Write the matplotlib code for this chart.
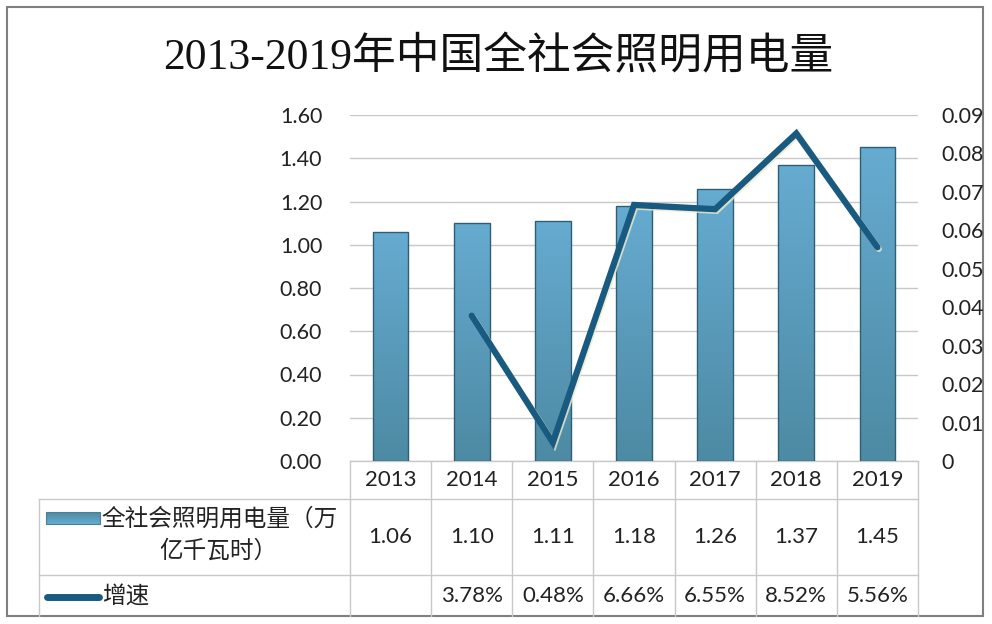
import matplotlib
matplotlib.use("Agg")
import matplotlib.pyplot as plt
import numpy as np
from matplotlib.patches import Rectangle
from matplotlib.colors import LinearSegmentedColormap
import matplotlib.patheffects as pe

years = ["2013", "2014", "2015", "2016", "2017", "2018", "2019"]
usage = [1.06, 1.10, 1.11, 1.18, 1.26, 1.37, 1.45]
growth = [None, 0.0378, 0.0048, 0.0666, 0.0655, 0.0852, 0.0556]
growth_labels = ["", "3.78%", "0.48%", "6.66%", "6.55%", "8.52%", "5.56%"]
left_ticks = [0.0, 0.2, 0.4, 0.6, 0.8, 1.0, 1.2, 1.4, 1.6]
right_ticks = [0, 0.01, 0.02, 0.03, 0.04, 0.05, 0.06, 0.07, 0.08, 0.09]
title = "2013-2019年中国全社会照明用电量"
series1 = "全社会照明用电量（万\n亿千瓦时）"
series2 = "增速"

W, H = 992, 624
fig = plt.figure(figsize=(W / 100, H / 100), dpi=100)
fig.patch.set_facecolor("white")

FONT = ["Lato", "Noto Sans CJK SC", "DejaVu Sans"]
CJK = ["Noto Sans CJK SC", "DejaVu Sans"]
TXT = "#222222"
FS = 15.5

def fx(px):
    return px / W

def fy(py):
    return 1 - py / H

# Background overlay axes in pixel coords
bg = fig.add_axes([0, 0, 1, 1])
bg.set_xlim(0, W)
bg.set_ylim(H, 0)
bg.axis("off")
bg.add_patch(Rectangle((7, 7), 976, 609, fill=False, ec="#7f7f7f", lw=1.5))

# Main axes
L, R, T, B = 350, 918, 115, 461
ax = fig.add_axes([fx(L), fy(B), fx(R) - fx(L), fy(T) - fy(B)])
ax.set_facecolor("none")
for s in ax.spines.values():
    s.set_visible(False)
ax.set_yticks(left_ticks)
ax.set_yticklabels([f"{v:.2f}" for v in left_ticks], fontsize=FS, color=TXT, family=FONT)
ax.tick_params(axis="y", length=0, pad=20)
ax.set_xticks([])
ax.grid(axis="y", color="#c8c8c8", lw=1)
ax.set_axisbelow(True)

x = np.arange(len(years))
bars = ax.bar(x, usage, width=0.44, color="none", edgecolor="#2f5f73", lw=1.0, zorder=3)
grad = np.linspace(0, 1, 256).reshape(-1, 1)
cmap = LinearSegmentedColormap.from_list("g", ["#4d8aa3", "#66abd1"])
for b in bars:
    x0, y0 = b.get_x(), b.get_y()
    w, h = b.get_width(), b.get_height()
    im = ax.imshow(grad, extent=[x0, x0 + w, y0, y0 + h], origin="lower",
                   cmap=cmap, aspect="auto", zorder=2.5)
    im.set_clip_path(b)
ax.set_xlim(-0.5, len(years) - 0.5)
ax.set_ylim(0, 1.6)

ax2 = ax.twinx()
ax2.set_ylim(0, 0.09)
for s in ax2.spines.values():
    s.set_visible(False)
ax2.set_yticks(right_ticks)
ax2.set_yticklabels(["0"] + [f"{v:.2f}" for v in right_ticks[1:]], fontsize=FS, color=TXT, family=FONT)
ax2.tick_params(axis="y", length=0, pad=17)
gx = [i for i, g in enumerate(growth) if g is not None]
gy = [g for g in growth if g is not None]
ax2.plot(gx, gy, color="#195a80", lw=4.5, solid_capstyle="round", solid_joinstyle="miter", zorder=5,
         path_effects=[pe.SimpleLineShadow(offset=(1.0, -1.2), shadow_color="#eee9cc", alpha=0.8),
                       pe.Normal()])

# Table
col_w = (R - L) / len(years)
r0, r1, r2, r3 = B, 499, 575, 616
lc = "#c8c8c8"
bg.plot([L, R], [r0, r0], color=lc, lw=1)
bg.plot([39, R], [r1, r1], color=lc, lw=1)
bg.plot([39, R], [r2, r2], color=lc, lw=1)
for i in range(len(years) + 1):
    xx = L + i * col_w
    bg.plot([xx, xx], [r0, r3], color=lc, lw=1)
bg.plot([39, 39], [r1, r3], color=lc, lw=1)

for i, y in enumerate(years):
    cx = L + (i + 0.5) * col_w
    bg.text(cx, (r0 + r1) / 2, y, ha="center", va="center", fontsize=16, color=TXT, family=FONT)
    bg.text(cx, (r1 + r2) / 2, f"{usage[i]:.2f}", ha="center", va="center", fontsize=16, color=TXT, family=FONT)
    bg.text(cx, (r2 + r3) / 2, growth_labels[i], ha="center", va="center", fontsize=16, color=TXT, family=FONT)

# Legend keys in table
key = Rectangle((46, 512), 54, 12, fc="none", ec="#4d7f95", lw=0.8, zorder=4)
bg.add_patch(key)
kim = bg.imshow(np.linspace(0, 1, 64).reshape(-1, 1), extent=[46, 100, 524, 512], cmap=cmap, aspect="auto", zorder=3)
kim.set_clip_path(key)
bg.set_xlim(0, W)
bg.set_ylim(H, 0)
bg.text(101, 519, series1.split("\n")[0], ha="left", va="center", fontsize=17, color=TXT, family=CJK)
bg.text(218, 551, series1.split("\n")[1], ha="center", va="center", fontsize=17, color=TXT, family=CJK)
bg.plot([47, 99], [597, 597], color="#195a80", lw=5, solid_capstyle="round")
bg.text(102, 597, series2, ha="left", va="center", fontsize=17, color=TXT, family=CJK)

# Title
fig.text(fx(498), fy(58), title, ha="center", va="center", fontsize=31.5, color="#111111",
         family=["Liberation Serif", "Noto Sans CJK SC"])

fig.savefig("out.png", dpi=100, facecolor="white")
